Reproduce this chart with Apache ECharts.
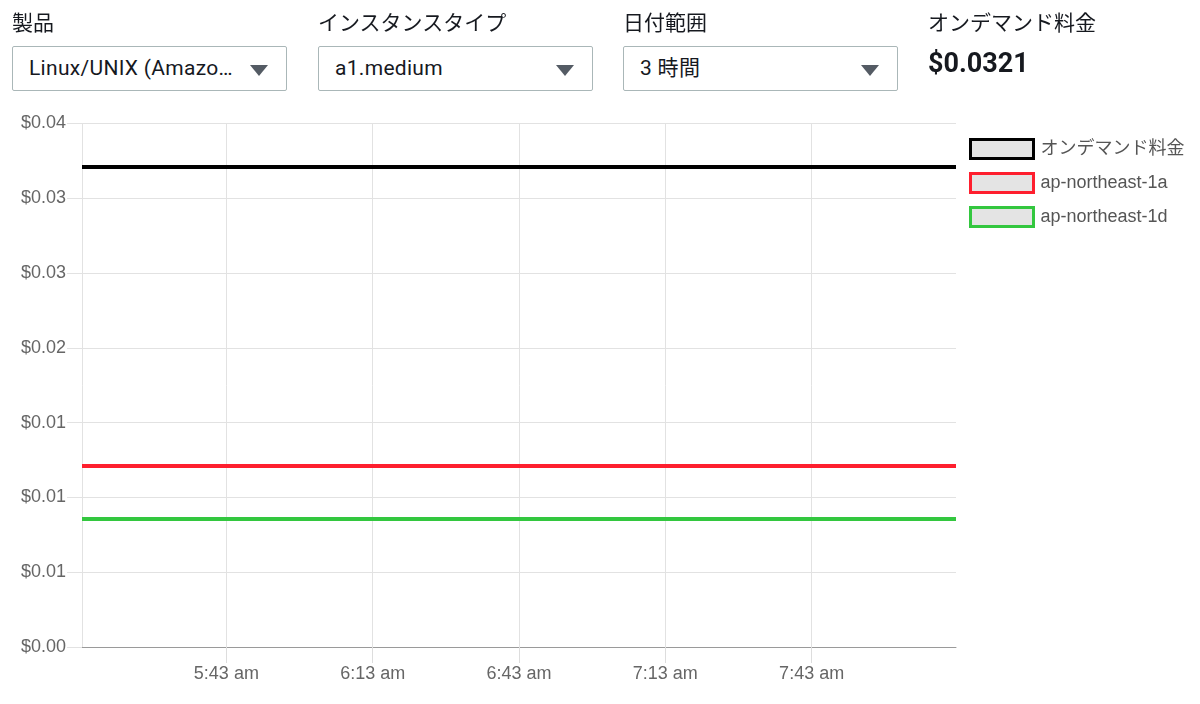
<!DOCTYPE html>
<html>
<head>
<meta charset="utf-8">
<script src="https://cdn.jsdelivr.net/npm/echarts@6/dist/echarts.min.js"></script>
<style>
  html, body { margin: 0; padding: 0; background: #ffffff; }
  body { width: 1200px; height: 704px; position: relative; overflow: hidden;
         font-family: Roboto, "Noto Sans CJK JP", "Liberation Sans", sans-serif; color: #16191f; }
  #chart { position: absolute; left: 0; top: 0; width: 1200px; height: 704px; }
  .lbl { position: absolute; top: 10px; height: 26px; line-height: 26px; font-size: 21px; white-space: nowrap; z-index: 2; }
  .sel { position: absolute; top: 46px; width: 275px; height: 45px; box-sizing: border-box;
         border: 1px solid #aab7b8; border-radius: 2px; background: #fff; z-index: 2;
         padding-left: 16px; line-height: 43px; font-size: 21px; letter-spacing: 0.3px; white-space: nowrap; }
  .sel .tri { position: absolute; right: 18px; top: 18px; width: 0; height: 0;
              border-left: 9px solid transparent; border-right: 9px solid transparent;
              border-top: 11px solid #545b64; }
  .val { position: absolute; left: 928px; top: 47px; font-size: 27px; font-weight: bold; line-height: 32px; z-index: 2; }
</style>
</head>
<body>
<div id="chart"></div>
<div class="lbl" style="left:12px">製品</div>
<div class="sel" style="left:12px">Linux/UNIX (Amazo…<span class="tri"></span></div>
<div class="lbl" style="left:318px">インスタンスタイプ</div>
<div class="sel" style="left:318px">a1.medium<span class="tri"></span></div>
<div class="lbl" style="left:623px">日付範囲</div>
<div class="sel" style="left:623px">3 時間<span class="tri"></span></div>
<div class="lbl" style="left:928px">オンデマンド料金</div>
<div class="val">$0.0321</div>
<script>
// ---- data ----
// time in minutes since midnight (range ≈ 5:13 am – 8:13 am)
const sampleTimes = [313.4, 492.6];
const seriesNames = ['オンデマンド料金', 'ap-northeast-1a', 'ap-northeast-1d'];
const onDemandPrice = [0.0321, 0.0321];
const apNortheast1a = [0.0121, 0.0121];
const apNortheast1d = [0.00855, 0.00855];
const seriesColors = ['#000000', '#fe1f2e', '#33c73f'];
const xTickValues = [343, 373, 403, 433, 463];
const xTickLabels = ['5:43 am', '6:13 am', '6:43 am', '7:13 am', '7:43 am'];
const yTickLabels = ['$0.00', '$0.01', '$0.01', '$0.01', '$0.02', '$0.03', '$0.03', '$0.04'];
const yStep = 0.005;

const seriesValues = [onDemandPrice, apNortheast1a, apNortheast1d];

const chart = echarts.init(document.getElementById('chart'), null, { renderer: 'canvas' });
const textFont = '"Liberation Sans", Arial, Helvetica, sans-serif';

chart.setOption({
  animation: false,
  textStyle: { fontFamily: textFont },
  grid: { left: 82, right: 244, top: 123.5, bottom: 57, containLabel: false },
  legend: {
    orient: 'vertical',
    left: 969,
    top: 138,
    padding: 0,
    itemWidth: 63,
    itemHeight: 19,
    itemGap: 12,
    icon: 'rect',
    textStyle: { color: '#555555', fontSize: 18, lineHeight: 19, fontFamily: '"Liberation Sans", Arial, "Noto Sans CJK JP", sans-serif', padding: [0, 0, 0, 2] },
    data: seriesNames.map((n, i) => ({
      name: n,
      icon: 'rect',
      itemStyle: { color: '#e4e4e4', borderColor: seriesColors[i], borderWidth: 3 }
    }))
  },
  xAxis: {
    type: 'value',
    min: sampleTimes[0],
    max: sampleTimes[sampleTimes.length - 1],
    axisLine: { show: true, lineStyle: { color: '#9a9a9a', width: 1 } },
    axisTick: { show: true, customValues: xTickValues, length: 16, lineStyle: { color: '#dddddd' } },
    axisLabel: {
      customValues: xTickValues,
      color: '#666666', fontSize: 18, margin: 18,
      formatter: (v) => { const i = xTickValues.indexOf(Math.round(v)); return i >= 0 ? xTickLabels[i] : ''; }
    },
    splitLine: { show: true, lineStyle: { color: '#e2e2e2' } }
  },
  yAxis: {
    type: 'value',
    min: 0,
    max: yStep * (yTickLabels.length - 1),
    interval: yStep,
    axisLine: { show: true, lineStyle: { color: '#e2e2e2' } },
    axisTick: { show: true, length: 15, lineStyle: { color: '#e2e2e2' } },
    axisLabel: {
      color: '#666666', fontSize: 18, margin: 16,
      formatter: (v) => yTickLabels[Math.round(v / yStep)]
    },
    splitLine: { show: true, lineStyle: { color: '#e2e2e2' } }
  },
  series: seriesNames.map((n, i) => ({
    name: n,
    type: 'line',
    showSymbol: false,
    color: seriesColors[i],
    lineStyle: { width: 4, color: seriesColors[i] },
    data: sampleTimes.map((t, k) => [t, seriesValues[i][k]])
  }))
});
</script>
</body>
</html>
